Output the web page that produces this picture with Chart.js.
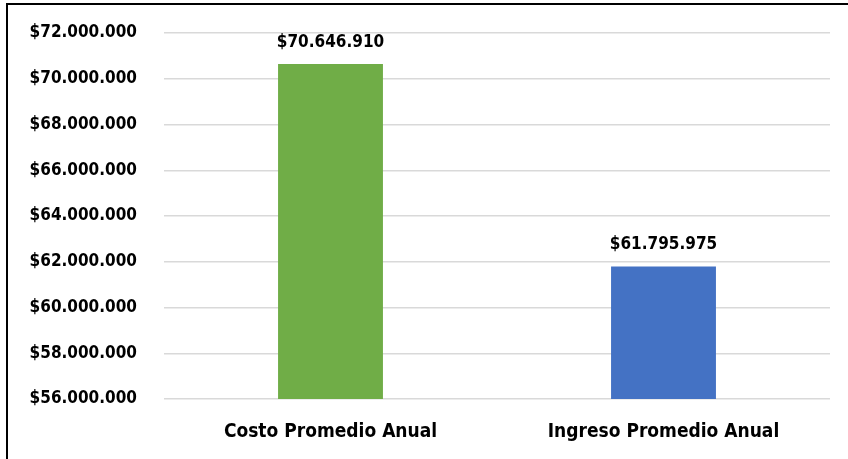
<!DOCTYPE html>
<html>
<head>
<meta charset="utf-8">
<script src="https://cdn.jsdelivr.net/npm/chart.js@4/dist/chart.umd.min.js"></script>
<style>
  html,body{margin:0;padding:0;background:#fff;}
  #wrap{position:relative;width:848px;height:459px;overflow:hidden;}
  #frame{position:absolute;left:6px;top:3px;width:900px;height:500px;border-left:2px solid #000;border-top:2px solid #000;}
  canvas{position:absolute;left:0;top:0;}
</style>
</head>
<body>
<div id="wrap">
  <div id="frame"></div>
  <canvas id="c" width="848" height="459"></canvas>
</div>
<script>
const categories = ['Costo Promedio Anual', 'Ingreso Promedio Anual'];
const values = [70646910, 61795975];
const barColors = ['#70ad47', '#4472c4'];
const yMin = 56000000, yMax = 72000000, yStep = 2000000;

const FONT = "'Liberation Sans Narrow','DejaVu Sans Condensed','Open Sans',sans-serif";
const money = v => '$' + Math.round(v).toString().replace(/\B(?=(\d{3})+(?!\d))/g, '.');

// etiquetas de valor encima de cada barra
const valueLabels = {
  id: 'valueLabels',
  afterDatasetsDraw(chart) {
    const ctx = chart.ctx;
    const meta = chart.getDatasetMeta(0);
    ctx.save();
    ctx.font = 'bold 17px ' + FONT;
    ctx.fillStyle = '#000';
    ctx.textAlign = 'center';
    ctx.textBaseline = 'alphabetic';
    meta.data.forEach((bar, i) => {
      ctx.fillText(money(values[i]), bar.x, bar.y - 17);
    });
    ctx.restore();
  }
};

new Chart(document.getElementById('c'), {
  type: 'bar',
  data: {
    labels: categories,
    datasets: [{ data: values, backgroundColor: barColors, barPercentage: 1, categoryPercentage: 0.315 }]
  },
  options: {
    responsive: false,
    animation: false,
    layout: { padding: { top: 33, right: 18, left: 0, bottom: 0 } },
    plugins: { legend: { display: false }, tooltip: { enabled: false } },
    scales: {
      x: {
        grid: { display: false },
        border: { display: false },
        ticks: { color: '#000', font: { family: FONT, size: 19, weight: 'bold' }, padding: 14 },
        afterFit(s) { s.height = 60; }
      },
      y: {
        min: yMin, max: yMax,
        border: { display: false },
        grid: { color: '#d9d9d9', lineWidth: 1.5, drawTicks: false },
        ticks: { stepSize: yStep, color: '#000', padding: 27, font: { family: FONT, size: 17, weight: 'bold' }, callback: v => money(v) },
        // el padding de las etiquetas no debe empujar el área del gráfico hacia abajo
        afterFit(s) { s.width = 164; s.paddingTop = 10; }
      }
    }
  },
  plugins: [valueLabels]
});
</script>
</body>
</html>
